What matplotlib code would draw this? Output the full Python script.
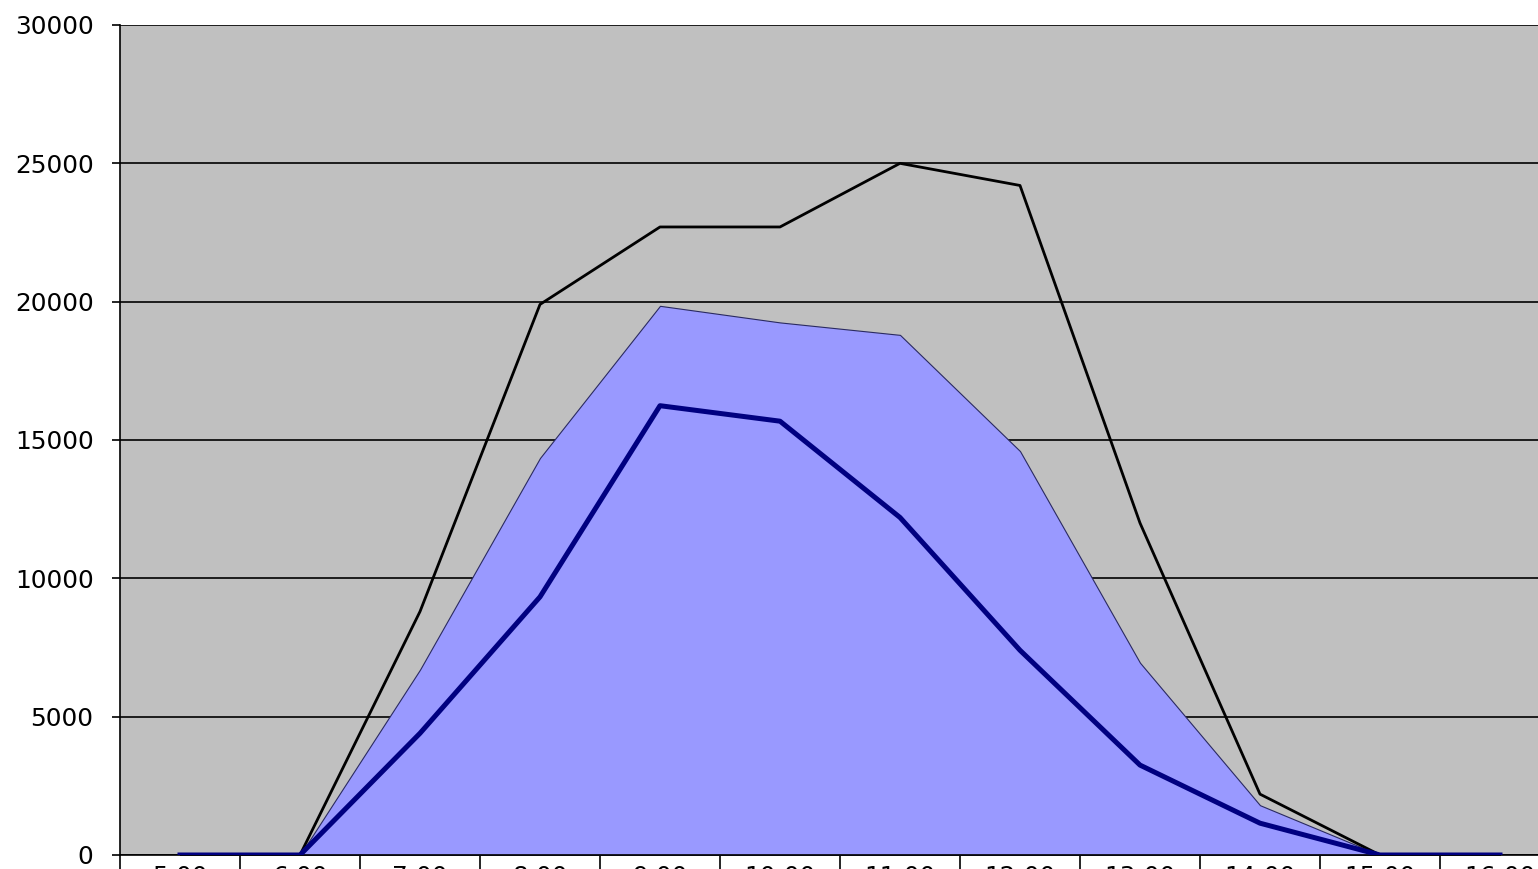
import numpy as np
import matplotlib
matplotlib.use('Agg')
from matplotlib import pyplot as plt

# hourly values
hours = ['5:00', '6:00', '7:00', '8:00', '9:00', '10:00',
         '11:00', '12:00', '13:00', '14:00', '15:00', '16:00']
total = [0, 0, 8800, 19900, 22700, 22700, 25000, 24200, 12000, 2200, 0, 0]
area_vals = [0, 0, 6700, 14350, 19850, 19250, 18800, 14600, 6950, 1800, 0, 0]
line_vals = [0, 0, 4400, 9330, 16240, 15680, 12200, 7400, 3250, 1150, 0, 0]

W, H = 1538, 869
fig = plt.figure(figsize=(W/100, H/100), dpi=100)
# plot area: left 120px, top 25px, baseline 855px, runs past the right edge
ax = fig.add_axes([120/W, (H-855)/H, 1440/W, 830/H])
ax.set_facecolor('#C0C0C0')

x = np.arange(len(hours))
ax.fill_between(x, area_vals, color='#9999FF', edgecolor='#2A2A60', linewidth=0.8, zorder=2)
ax.plot(x, total, color='black', linewidth=2.0, zorder=3)
ax.plot(x, line_vals, color='#000080', linewidth=3.6, zorder=4)

ax.set_xlim(-0.5, len(hours)-0.5)
ax.set_ylim(0, 30000)
ax.set_yticks(range(0, 30001, 5000))
ax.yaxis.grid(True, color='black', linewidth=1.2)
ax.set_axisbelow(True)

ax.set_xticks(x)
ax.set_xticklabels(hours)
ax.set_xticks(np.arange(-0.5, len(hours)), minor=True)
ax.tick_params(axis='x', which='major', length=0, pad=7, labelsize=17.8)
ax.tick_params(axis='x', which='minor', length=16, width=1.2, direction='out', color='black')
ax.tick_params(axis='y', length=6, width=1.2, pad=13, labelsize=17.8)

for s in ['top', 'right']:
    ax.spines[s].set_visible(False)
ax.spines['left'].set_linewidth(1.2)
ax.spines['bottom'].set_linewidth(1.2)

fig.savefig('out.png', dpi=100, facecolor='white')
